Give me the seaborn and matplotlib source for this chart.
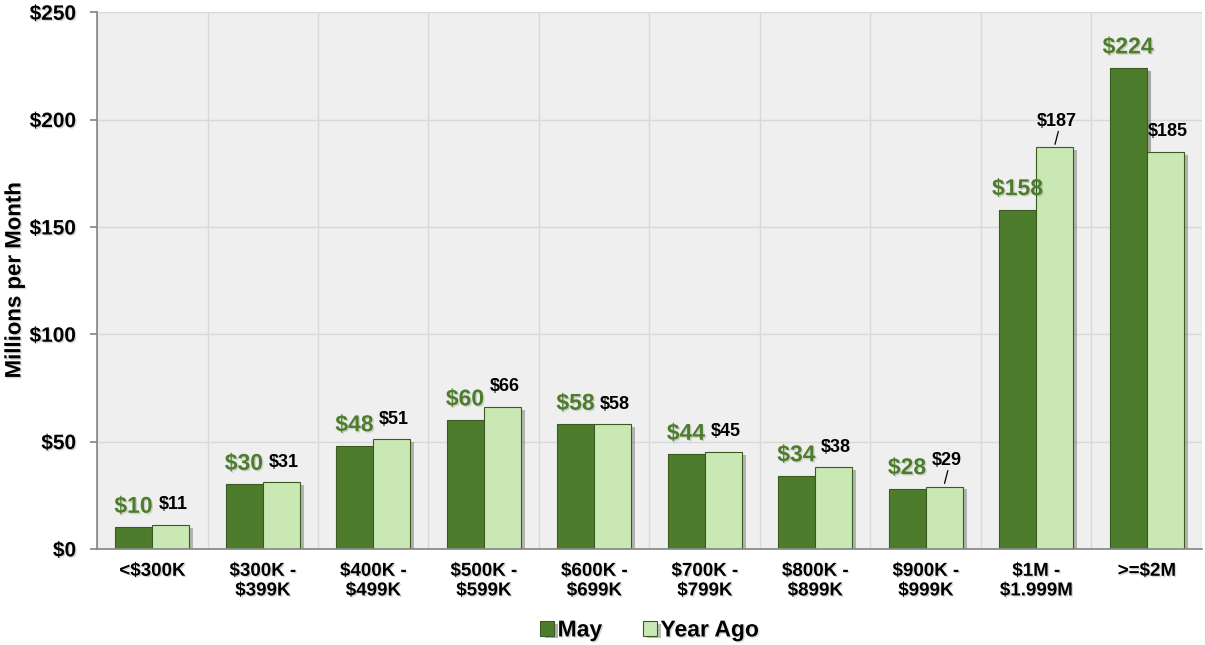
import matplotlib
matplotlib.use("Agg")
import matplotlib.pyplot as plt
import matplotlib.patheffects as pe
import seaborn as sns
import pandas as pd
import numpy as np

categories = ["<$300K", "$300K -\n$399K", "$400K -\n$499K", "$500K -\n$599K", "$600K -\n$699K",
              "$700K -\n$799K", "$800K -\n$899K", "$900K -\n$999K", "$1M -\n$1.999M", ">=$2M"]
may_values = [10, 30, 48, 60, 58, 44, 34, 28, 158, 224]
year_ago_values = [11, 31, 51, 66, 58, 45, 38, 29, 187, 185]
series_names = ["May", "Year Ago"]
y_ticks = [0, 50, 100, 150, 200, 250]
leader_idx = [7, 8]

df = pd.DataFrame({
    "category": categories * 2,
    "series": [series_names[0]] * len(categories) + [series_names[1]] * len(categories),
    "value": may_values + year_ago_values,
})

sns.set_theme(style="white")
plt.rcParams['font.family'] = ['Liberation Sans', 'DejaVu Sans']
plt.rcParams['text.color'] = 'black'
plt.rcParams['axes.labelcolor'] = 'black'
plt.rcParams['xtick.color'] = 'black'
plt.rcParams['ytick.color'] = 'black'

fig = plt.figure(figsize=(12.05, 6.45), dpi=100)
ax = fig.add_axes([0.0805, 0.149, 0.917, 0.832])
ax.set_facecolor("#efefef")

palette = {"May": "#4d7d2c", "Year Ago": "#c9e8b4"}
sns.barplot(data=df, x="category", y="value", hue="series", order=categories,
            hue_order=series_names, palette=palette, width=0.67, ax=ax,
            edgecolor="#3a5a22", linewidth=0.8, saturation=1)

for p in ax.patches:
    p.set_path_effects([pe.SimplePatchShadow(offset=(3, -2), alpha=0.35), pe.Normal()])

txt_shadow = [pe.withSimplePatchShadow(offset=(1.0, -1.0), alpha=0.15)]

ax.set_ylim(0, 250)
ax.set_xlim(-0.5, len(categories) - 0.5)
ax.set_yticks(y_ticks)
ax.set_yticklabels([f"${v}" for v in y_ticks], fontsize=15, fontweight="bold")
ax.set_xticks(np.arange(len(categories)))
ax.set_xticklabels(categories, fontsize=13.5, fontweight="bold")
for t in ax.get_yticklabels() + ax.get_xticklabels():
    t.set_path_effects(txt_shadow)
ax.tick_params(axis="x", pad=10)
ax.set_xticks(np.arange(-0.5, len(categories)), minor=True)
ax.grid(False)
ax.grid(True, which="minor", axis="x", color="#d8d8d8", linewidth=1)
ax.grid(True, which="major", axis="y", color="#d8d8d8", linewidth=1)
ax.set_axisbelow(True)
ax.tick_params(axis="x", which="major", length=0)
ax.tick_params(axis="x", which="minor", length=5, color="#888888")
ax.tick_params(axis="y", length=5, color="#888888", left=True, pad=10)
ax.set_xlabel("")
ax.set_ylabel("Millions per Month", fontsize=16, fontweight="bold", labelpad=3)
ax.yaxis.label.set_path_effects(txt_shadow)
for s in ["top", "right"]:
    ax.spines[s].set_visible(False)
ax.spines["left"].set_color("#888888")
ax.spines["bottom"].set_color("#888888")

for i, (m, y) in enumerate(zip(may_values, year_ago_values)):
    ax.text(i - 0.17, m + 4.5, f"${m}", ha="center", va="bottom", fontsize=16.5,
            fontweight="bold", color="#4d7d2c", path_effects=txt_shadow)
    off = 8 if i in leader_idx else 5.5
    ax.text(i + 0.19, y + off, f"${y}", ha="center", va="bottom", fontsize=13,
            fontweight="bold", color="black")
    if i in leader_idx:
        ax.plot([i + 0.2, i + 0.17], [y + 7.5, y + 1.5], color="black", linewidth=0.9)

leg = ax.legend(loc="center", bbox_to_anchor=(0.5, -0.151), ncol=2, frameon=False,
                prop={"weight": "bold", "size": 16.5}, handlelength=0.6, handleheight=0.6,
                columnspacing=1.8, handletextpad=0.15)
for t in leg.get_texts():
    t.set_path_effects(txt_shadow)

fig.savefig("out.png", dpi=100)
